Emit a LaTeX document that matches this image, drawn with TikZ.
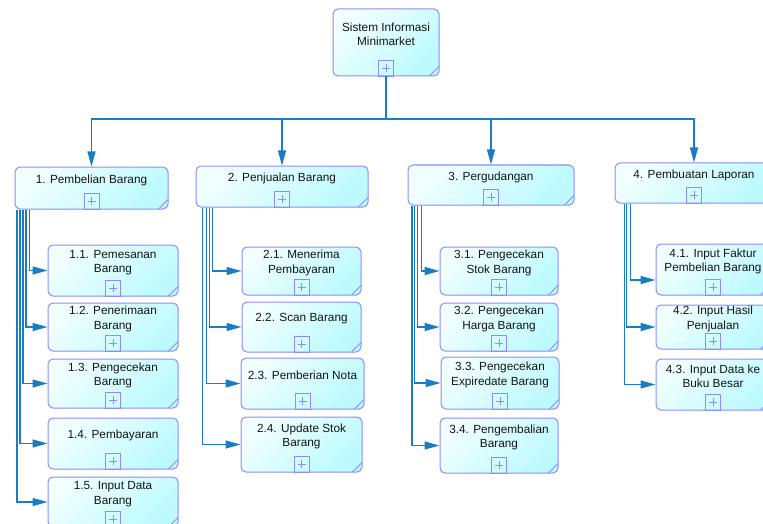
\documentclass[tikz,border=0pt]{standalone}
\usepackage{fontspec}
\setmainfont{Liberation Sans}
\usetikzlibrary{arrows.meta,calc}

\definecolor{edgeblue}{RGB}{140,140,255}
\definecolor{wireblue}{RGB}{25,125,195}
\definecolor{fillA}{RGB}{242,255,255}
\definecolor{fillB}{RGB}{188,250,255}
\definecolor{inkgray}{RGB}{20,20,20}

\tikzset{
  taskbox/.style={draw=edgeblue, line width=1pt, rounded corners=5pt,
    left color=fillA, right color=fillB, shading angle=45, inner sep=0pt},
  tasktext/.style={align=center, font=\fontsize{11.8}{14.5}\selectfont,
    text=inkgray, inner sep=0pt},
  plusbox/.style={draw=edgeblue, line width=0.8pt, minimum width=15pt,
    minimum height=16pt, inner sep=0pt},
  markline/.style={draw=edgeblue, line width=0.8pt},
  wire/.style={draw=wireblue, line width=1.2pt,
    -{Triangle[length=15pt,width=8pt,fill=wireblue]}},
  trunk/.style={draw=wireblue, line width=2pt},
}

% #1 name, #2 centre x, #3 centre y, #4 width, #5 height, #6 text
\newcommand\tasknode[6]{%
  \node[taskbox, minimum width=#4pt, minimum height=#5pt] (#1) at (#2,#3) {};
  \node[tasktext] (#1-txt) at ([yshift=8pt]#1.center) {#6};
  \node[plusbox, anchor=south] (#1-plus) at (#1.south) {};
  \draw[markline] ([xshift=-4pt]#1-plus.center) -- ([xshift=4pt]#1-plus.center)
                  ([yshift=-4pt]#1-plus.center) -- ([yshift=4pt]#1-plus.center);
  \draw[markline] ([xshift=-10pt,yshift=0.5pt]#1.south east)
                  -- ([xshift=-0.5pt,yshift=10pt]#1.south east);
}

\begin{document}
\begin{tikzpicture}[x=1pt, y=-1pt]
  \useasboundingbox (0,0) rectangle (763,524);
  \fill[white] (0,0) rectangle (763,524);
  \clip (0,0) rectangle (763,524);

  % root and first level
  \tasknode{top}{386}{42.5}{106}{67}{Sistem Informasi\\Minimarket}
  \tasknode{n1}{91.5}{188}{153}{42}{1. Pembelian Barang}
  \tasknode{n2}{282}{186.5}{172}{41}{2. Penjualan Barang}
  \tasknode{n3}{491}{185}{166}{40}{3. Pergudangan}
  \tasknode{n4}{694}{183}{158}{40}{4. Pembuatan Laporan}

  % 1. Pembelian Barang
  \tasknode{c11}{113}{270.5}{130}{51}{1.1. Pemesanan\\Barang}
  \tasknode{c12}{113}{327}{130}{48}{1.2. Penerimaan\\Barang}
  \tasknode{c13}{113}{383.5}{130}{49}{1.3. Pengecekan\\Barang}
  \tasknode{c14}{113}{443.5}{130}{51}{1.4. Pembayaran}
  \tasknode{c15}{113}{502}{130}{50}{1.5. Input Data\\Barang}

  % 2. Penjualan Barang
  \tasknode{c21}{301.5}{271}{119}{48}{2.1. Menerima\\Pembayaran}
  \tasknode{c22}{301.5}{327}{119}{50}{2.2. Scan Barang}
  \tasknode{c23}{302.5}{383.5}{123}{51}{2.3. Pemberian Nota}
  \tasknode{c24}{301.5}{444.5}{121}{55}{2.4. Update Stok\\Barang}

  % 3. Pergudangan
  \tasknode{c31}{499}{271}{118}{48}{3.1. Pengecekan\\Stok Barang}
  \tasknode{c32}{499}{327}{118}{48}{3.2. Pengecekan\\Harga Barang}
  \tasknode{c33}{500}{383}{118}{52}{3.3. Pengecekan\\Expiredate Barang}
  \tasknode{c34}{499}{445.5}{118}{55}{3.4. Pengembalian\\Barang}

  % 4. Pembuatan Laporan
  \tasknode{c41}{713}{269.5}{114}{51}{4.1. Input Faktur\\Pembelian Barang}
  \tasknode{c42}{713}{327}{114}{44}{4.2. Input Hasil\\Penjualan}
  \tasknode{c43}{713}{384.5}{114}{51}{4.3. Input Data ke\\Buku Besar}

  % root to first level
  \coordinate (bus) at (0,119);
  \draw[trunk] (top.south) -- (top.south |- bus);
  \foreach \n in {n1,n2,n3,n4}
    \draw[wire] (top.south |- bus) -| (\n.north);

  % first level to second level
  \draw[wire] ([xshift=15pt]n1.south west)   |- (c11.west);
  \draw[wire] ([xshift=11.5pt]n1.south west) |- (c12.west);
  \draw[wire] ([xshift=8.5pt]n1.south west)  |- (c13.west);
  \draw[wire] ([xshift=5.5pt]n1.south west)  |- (c14.west);
  \draw[wire] ([xshift=2.5pt]n1.south west)  |- (c15.west);

  \draw[wire] ([xshift=17pt]n2.south west) |- (c21.west);
  \draw[wire] ([xshift=14pt]n2.south west) |- (c22.west);
  \draw[wire] ([xshift=11pt]n2.south west) |- (c23.west);
  \draw[wire] ([xshift=7pt]n2.south west)  |- (c24.west);

  \draw[wire] ([xshift=14pt]n3.south west)  |- (c31.west);
  \draw[wire] ([xshift=10pt]n3.south west)  |- (c32.west);
  \draw[wire] ([xshift=7pt]n3.south west)   |- (c33.west);
  \draw[wire] ([xshift=4.5pt]n3.south west) |- (c34.west);

  \draw[wire] ([xshift=16pt]n4.south west) |- ([yshift=-10.5pt]c41.west);
  \draw[wire] ([xshift=12pt]n4.south west) |- (c42.west);
  \draw[wire] ([xshift=10pt]n4.south west) |- (c43.west);
\end{tikzpicture}
\end{document}
